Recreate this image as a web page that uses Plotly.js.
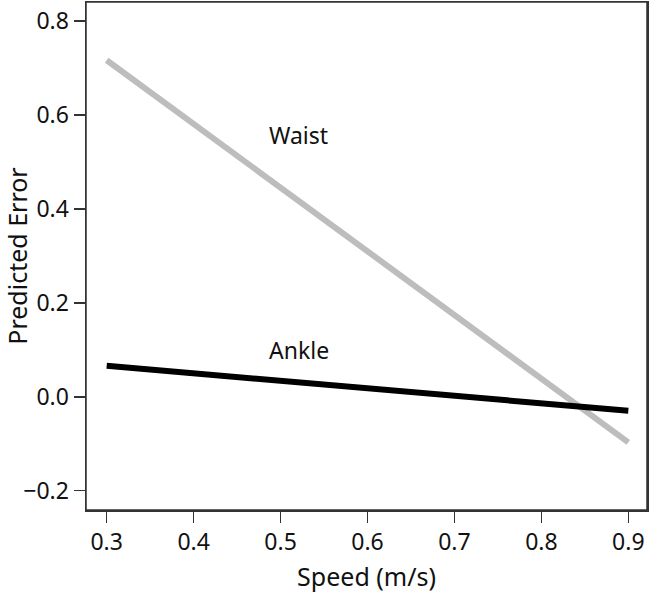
<!DOCTYPE html>
<html>
<head>
<meta charset="utf-8">
<script src="https://cdn.plot.ly/plotly-3.0.1.min.js"></script>
<style>body{margin:0;padding:0;background:#fff}#chart{width:650px;height:593px}</style>
</head>
<body>
<div id="chart"></div>
<script>
const speed = [0.3, 0.9];
const waistError = [0.716, -0.097];
const ankleError = [0.066, -0.030];
const labelNames = ["Waist", "Ankle"];
const labelX = [0.484, 0.484];
const labelY = [0.556, 0.099];
const xTicks = [0.3, 0.4, 0.5, 0.6, 0.7, 0.8, 0.9];
const yTicks = [-0.2, 0.0, 0.2, 0.4, 0.6, 0.8];
const yTickText = ["\u22120.2", "0.0", "0.2", "0.4", "0.6", "0.8"];

const font = "Noto Sans, Open Sans, sans-serif";
const traces = [
  {x: speed, y: waistError, mode: "lines", line: {color: "#bdbdbd", width: 6}, hoverinfo: "none"},
  {x: speed, y: ankleError, mode: "lines", line: {color: "#000000", width: 6}, hoverinfo: "none"}
];
const annotations = labelNames.map((t, i) => ({
  x: labelX[i], y: labelY[i], text: t, showarrow: false, xanchor: "left", yanchor: "middle",
  font: {family: font, size: 23, color: "#111"}
}));
const axisCommon = {
  showgrid: false, zeroline: false, showline: true, mirror: true, linecolor: "#333", linewidth: 1.5,
  ticks: "outside", ticklen: 11, tickwidth: 1.5, tickcolor: "#333",
  tickfont: {family: font, size: 23, color: "#111"}
};
const layout = {
  width: 650, height: 593,
  margin: {l: 86, r: 3, t: 2, b: 83},
  paper_bgcolor: "#fff", plot_bgcolor: "#fff",
  showlegend: false,
  xaxis: Object.assign({}, axisCommon, {
    range: [0.2762, 0.9215], tickvals: xTicks, ticktext: xTicks.map(v => v.toFixed(1)),
    title: {text: "Speed (m/s)", font: {family: font, size: 25, color: "#111"}}
  }),
  yaxis: Object.assign({}, axisCommon, {
    range: [-0.241, 0.840], tickvals: yTicks, ticktext: yTickText,
    title: {text: "Predicted Error", font: {family: font, size: 25, color: "#111"}}
  }),
  shapes: [{type: "rect", xref: "paper", yref: "paper", x0: 0, x1: 1, y0: 0, y1: 1,
            line: {color: "#333", width: 1.5}, fillcolor: "rgba(0,0,0,0)", layer: "above"}],
  annotations: annotations
};
Plotly.newPlot("chart", traces, layout, {staticPlot: true, displayModeBar: false});
</script>
</body>
</html>
